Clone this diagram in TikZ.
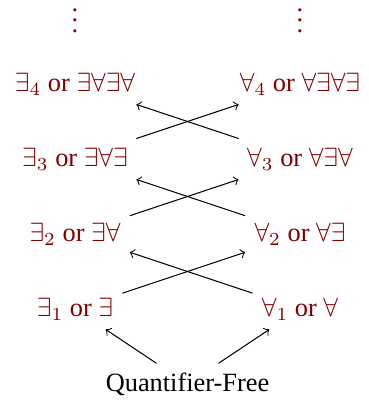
\documentclass[tikz,border=0pt]{standalone}
\usepackage{fontspec}
\setmainfont{Liberation Serif}
\usetikzlibrary{arrows.meta}
\definecolor{qred}{RGB}{128,0,0}

\begin{document}
\begin{tikzpicture}[line width=0.4pt,>=to,
  cls/.style={text=qred}]
\useasboundingbox (-1,-0.24) rectangle (3.92,5.12);
% 底部
\node (qf) at (1.5,0) {Quantifier-Free};
% 左列 / 右列
\node[cls] (e1) at (0,1) {$\exists_1$ or $\exists$};
\node[cls] (a1) at (3,1) {$\forall_1$ or $\forall$};
\node[cls] (e2) at (0,2) {$\exists_2$ or $\exists\forall$};
\node[cls] (a2) at (3,2) {$\forall_2$ or $\forall\exists$};
\node[cls] (e3) at (0,3) {$\exists_3$ or $\exists\forall\exists$};
\node[cls] (a3) at (3,3) {$\forall_3$ or $\forall\exists\forall$};
\node[cls] (e4) at (0,4) {$\exists_4$ or $\exists\forall\exists\forall$};
\node[cls] (a4) at (3,4) {$\forall_4$ or $\forall\exists\forall\exists$};
\node[cls] (ed) at (0,4.95) {$\vdots$};
\node[cls] (ad) at (3,4.95) {$\vdots$};
% 箭头
\draw[->] (qf) -- (e1);
\draw[->] (qf) -- (a1);
\draw[->] (e1) -- (a2);
\draw[->] (a1) -- (e2);
\draw[->] (e2) -- (a3);
\draw[->] (a2) -- (e3);
\draw[->] (e3) -- (a4);
\draw[->] (a3) -- (e4);
\end{tikzpicture}
\end{document}
